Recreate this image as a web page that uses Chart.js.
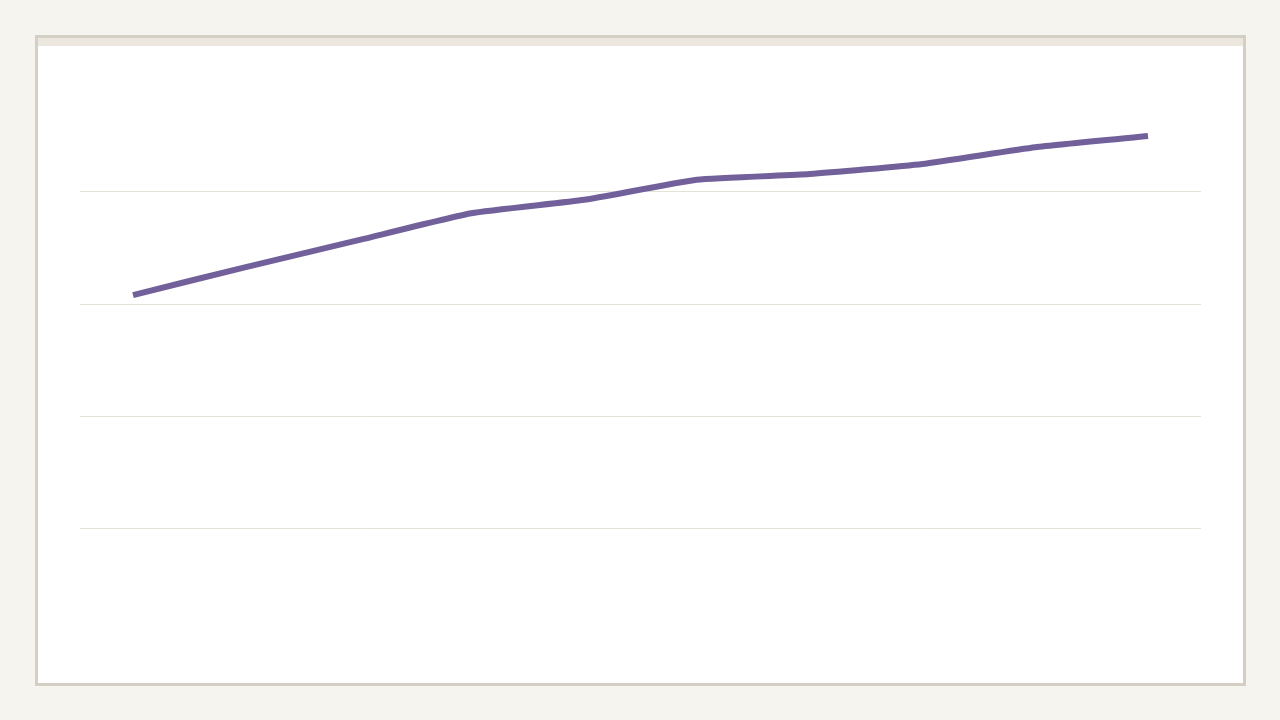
<!DOCTYPE html>
<html>
<head>
<meta charset="utf-8">
<script src="https://cdn.jsdelivr.net/npm/chart.js@4/dist/chart.umd.min.js"></script>
<style>
  html, body { margin: 0; padding: 0; background: #f5f4ef; width: 1280px; height: 720px; overflow: hidden; font-family: "DejaVu Sans", sans-serif; }
  #frame { position: absolute; left: 35px; top: 35px; width: 1205px; height: 645px; border: 3px solid #d3cfc5; background: #ffffff; }
  #strip { position: absolute; left: 0; top: 0; right: 0; height: 8px; background: #ebe7de; }
  #chartWrap { position: absolute; left: 0; top: 0; width: 1280px; height: 720px; }
</style>
</head>
<body>
<div id="frame"><div id="strip"></div></div>
<div id="chartWrap"><canvas id="c" width="1280" height="720"></canvas></div>
<script>
const categories = ["1", "2", "3", "4", "5", "6", "7", "8", "9", "10"];
const seriesValues = [3.08, 3.33, 3.57, 3.81, 3.93, 4.11, 4.16, 4.25, 4.40, 4.50];
const yTicks = [0, 1, 2, 3, 4, 5];

const points = seriesValues.map((v, i) => ({ x: i, y: v }));

new Chart(document.getElementById('c'), {
  type: 'line',
  data: {
    labels: categories,
    datasets: [{
      data: points,
      borderColor: '#72609b',
      borderWidth: 6,
      borderCapStyle: 'butt',
      borderJoinStyle: 'round',
      pointRadius: 0,
      tension: 0.15,
      fill: false
    }]
  },
  options: {
    responsive: false,
    animation: false,
    parsing: true,
    layout: { padding: { left: 80, right: 79, top: 80, bottom: 80 } },
    plugins: { legend: { display: false }, tooltip: { enabled: false } },
    scales: {
      x: {
        type: 'linear',
        display: false,
        min: -0.47,
        max: categories.length - 1 + 0.47
      },
      y: {
        min: yTicks[0],
        max: yTicks[yTicks.length - 1],
        afterBuildTicks: (axis) => { axis.ticks = yTicks.map(v => ({ value: v })); },
        afterFit: (axis) => { axis.width = 0; },
        grid: {
          color: (ctx) => (ctx.tick && (ctx.tick.value === yTicks[0] || ctx.tick.value === yTicks[yTicks.length - 1])) ? 'rgba(0,0,0,0)' : '#e3e2d6',
          lineWidth: 1,
          drawTicks: false
        },
        border: { display: false },
        ticks: { display: false, padding: 0 }
      }
    }
  }
});
</script>
</body>
</html>
